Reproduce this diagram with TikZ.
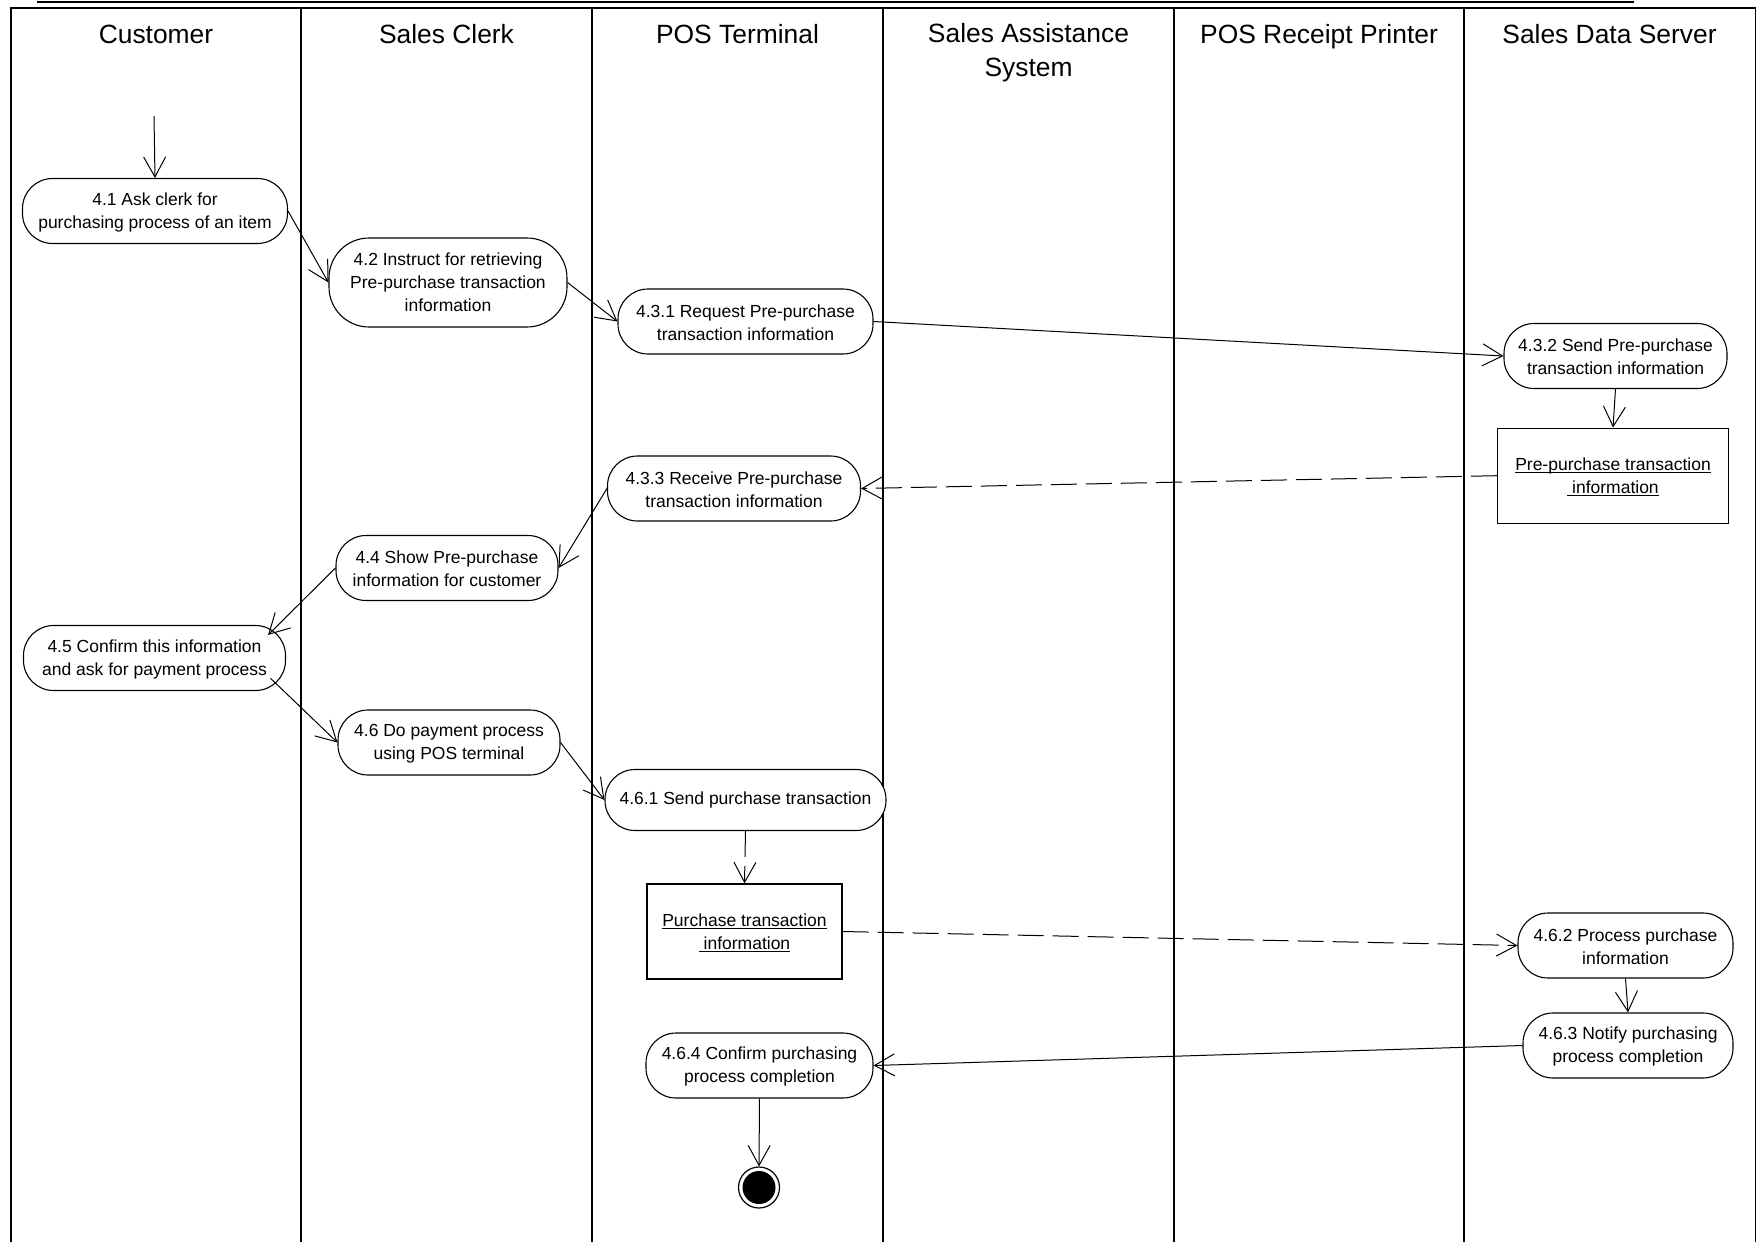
\documentclass[tikz,border=0pt]{standalone}
\usepackage{fontspec}
\setmainfont{Liberation Sans}
\usetikzlibrary{arrows.meta,calc}
\newcommand\nodefont{\fontsize{17.5}{23}\selectfont}
\newcommand\headfont{\fontsize{26.4}{33.7}\selectfont}
\newcommand\fs{\rule{0pt}{15pt}}
\newcommand\ulx[1]{\setbox0\hbox{#1}\rlap{\rule[-2.6pt]{\wd0}{1.1pt}}\box0}
\tikzset{
  act/.style={draw, line width=1.1pt, rounded corners=30pt, inner sep=0pt, align=center, font=\nodefont, fill=white},
  obj/.style={draw, line width=1.4pt, inner sep=0pt, align=center, font=\nodefont, fill=white},
  flow/.style={line width=1pt, -{Straight Barb[length=20pt,width=22pt,line width=1pt]}},
  dflow/.style={flow, dash pattern=on 26pt off 9pt},
  lane/.style={line width=1.8pt},
  head/.style={font=\headfont, align=center, anchor=base}
}
\begin{document}
\begin{tikzpicture}[x=1pt,y=-1pt]
\fill[white] (0,0) rectangle (1761,1242);
\useasboundingbox (0,0) rectangle (1761,1242);
% top rule
\draw[line width=2pt] (37,1.5) -- (1634,1.5);
% swimlanes
\draw[lane] (11,1242) -- (11,8) -- (1755.5,8) -- (1755.5,1242);
\foreach \x in {301,592,883,1174,1464} \draw[lane] (\x,8) -- (\x,1242);
% headers
\node[head] (h1) at (156,43.8) {Customer};
\node[head] (h2) at (446.5,43.8) {Sales Clerk};
\node[head] (h3) at (737.5,43.8) {POS Terminal};
\node[head, anchor=north] (h4) at (1028.5,20) {Sales Assistance\\System};
\node[head] (h5) at (1319,43.8) {POS Receipt Printer};
\node[head] (h6) at (1609.5,43.8) {Sales Data Server};
% nodes
\coordinate (start) at (154,116);
\node[act, minimum width=265pt, minimum height=65pt] (n41) at (155,211) {\fs4.1 Ask clerk for\\purchasing process of an item};
\node[act, rounded corners=40pt, minimum width=238pt, minimum height=89pt] (n42) at (448,282.5) {4.2 Instruct for retrieving\\Pre-purchase transaction\\information};
\node[act, minimum width=255pt, minimum height=65pt] (n431) at (745.5,321.5) {\fs4.3.1 Request Pre-purchase\\transaction information};
\node[act, minimum width=223pt, minimum height=65pt] (n432) at (1615.5,356) {\fs4.3.2 Send Pre-purchase\\transaction information};
\node[obj, minimum width=231pt, minimum height=95pt] (b1) at (1613,475.7) {\fs\ulx{Pre-purchase transaction}\\\ulx{\ information}};
\node[act, minimum width=253pt, minimum height=65pt] (n433) at (734,488.5) {\fs4.3.3 Receive Pre-purchase\\transaction information};
\node[act, minimum width=222pt, minimum height=65pt] (n44) at (447,568) {\fs4.4 Show Pre-purchase\\information for customer};
\node[act, minimum width=262pt, minimum height=65pt] (n45) at (154.5,658) {\fs4.5 Confirm this information\\and ask for payment process};
\node[act, minimum width=222pt, minimum height=65pt] (n46) at (449,742.5) {\fs4.6 Do payment process\\using POS terminal};
\node[act, minimum width=281pt, minimum height=61pt] (n461) at (745.5,800) {4.6.1 Send purchase transaction};
\node[obj, minimum width=195pt, minimum height=95pt] (b2) at (744.5,931.5) {\fs\ulx{Purchase transaction}\\\ulx{\ information}};
\node[act, minimum width=215pt, minimum height=65pt] (n462) at (1625.5,945.5) {\fs4.6.2 Process purchase\\information};
\node[act, minimum width=210pt, minimum height=65pt] (n463) at (1628,1045.5) {\fs4.6.3 Notify purchasing\\process completion};
\node[act, minimum width=227pt, minimum height=65pt] (n464) at (759.5,1065.5) {\fs4.6.4 Confirm purchasing\\process completion};
\node[circle, draw, line width=1.2pt, minimum size=41pt, inner sep=0pt,
  path picture={\fill (path picture bounding box.center) circle (16.5pt);}] (end) at (759,1187.5) {};
% flows
\draw[flow] (start) -- (n41.north);
\draw[flow] (n41.east) -- (n42.west);
\draw[flow] (n42.east) -- (n431.west);
\draw[flow] (n431.east) -- (n432.west);
\draw[flow] (n432.south) -- (b1.north);
\draw[dflow] (b1.west) -- (n433.east);
\draw[flow] (n433.west) -- (n44.east);
\draw[flow] (n44.west) -- ($(n45.north east)+(-18,10)$);
\draw[flow] ($(n45.south east)+(-15.5,-12.7)$) -- (n46.west);
\draw[flow] (n46.east) -- (n461.west);
\draw[dflow] (n461.south) -- (b2.north);
\draw[dflow] (b2.east) -- (n462.west);
\draw[flow] (n462.south) -- (n463.north);
\draw[flow] (n463.west) -- (n464.east);
\draw[flow] (n464.south) -- (end.north);
\end{tikzpicture}
\end{document}
